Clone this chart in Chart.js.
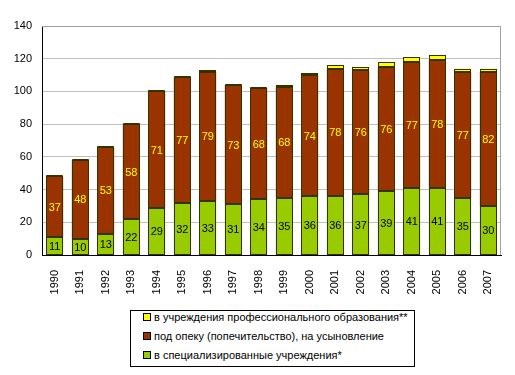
<!DOCTYPE html>
<html>
<head>
<meta charset="utf-8">
<script src="https://cdn.jsdelivr.net/npm/chart.js@4/dist/chart.umd.min.js"></script>
<style>
    html, body { margin: 0; padding: 0; background: #fff; }
    #wrap { position: relative; width: 515px; height: 375px; }
    #legend {
        position: absolute; left: 130px; top: 310px; width: 285px; height: 57px;
        box-sizing: border-box; border: 1px solid #000; background: #fff;
        font: 11px "Liberation Sans", Arial, sans-serif; color: #000;
    }
    #legend div { position: absolute; left: 12px; white-space: nowrap; line-height: 12px; }
    #legend span {
        display: inline-block; width: 6px; height: 6px; border: 1px solid #000;
        margin-right: 3px; vertical-align: 0px;
    }
</style>
</head>
<body>
<div id="wrap">
    <canvas id="chart" width="515" height="375"></canvas>
    <div id="legend"></div>
</div>
<script>

const years = [
    "1990", "1991", "1992", "1993", "1994", "1995", "1996", "1997", "1998",
    "1999", "2000", "2001", "2002", "2003", "2004", "2005", "2006", "2007"
];

const specialized = [11, 10, 13, 22, 29, 32, 33, 31, 34, 35, 36, 36, 37, 39, 41, 41, 35, 30];

const guardianship = [37, 48, 53, 58, 71, 77, 79, 73, 68, 68, 74, 78, 76, 76, 77, 78, 77, 82];

const professional = [0, 0, 0, 0, 0, 0, 1, 0, 0, 1, 1, 2, 2, 3, 3, 3, 2, 2];

const seriesNames = [
    "в специализированные учреждения*",
    "под опеку (попечительство), на усыновление",
    "в учреждения профессионального образования**"
];

const seriesColors = ["#99CC00", "#993300", "#FFFF00"];

const labelColors = ["#000000", "#FFFF00"];

const font = "Liberation Sans, Arial, sans-serif";

// crisp 1px outlines round every segment (zero segments give a dark line, as in Excel)
const outlines = {
    id: "outlines",
    afterDatasetsDraw(chart) {
        const ctx = chart.ctx;
        ctx.save();
        ctx.strokeStyle = "#333300";
        ctx.lineWidth = 1;
        chart.data.datasets.forEach((ds, i) => {
            chart.getDatasetMeta(i).data.forEach(bar => {
                const x0 = Math.round(bar.x - bar.width / 2);
                const x1 = Math.round(bar.x + bar.width / 2);
                const y0 = Math.round(bar.y);
                const y1 = Math.round(bar.base);
                if (y1 - y0 < 1) {
                    ctx.strokeRect(x0 + 0.5, y0 - 0.5, x1 - x0 - 1, 0);
                } else {
                    ctx.strokeRect(x0 + 0.5, y0 + 0.5, x1 - x0 - 1, y1 - y0 - 1);
                }
            });
        });
        ctx.restore();
    }
};

const barLabels = {
    id: "barLabels",
    afterDatasetsDraw(chart) {
        const ctx = chart.ctx;
        ctx.save();
        ctx.font = "11px " + font;
        ctx.textAlign = "center";
        ctx.textBaseline = "middle";
        [0, 1].forEach(i => {
            const meta = chart.getDatasetMeta(i);
            meta.data.forEach((bar, j) => {
                ctx.fillStyle = labelColors[i];
                ctx.fillText(
                    chart.data.datasets[i].data[j],
                    bar.x,
                    (bar.y + bar.base) / 2 + 1
                );
            });
        });
        ctx.restore();
    }
};

const frame = {
    id: "frame",
    beforeDatasetsDraw(chart) {
        const a = chart.chartArea;
        const ctx = chart.ctx;
        ctx.save();
        ctx.strokeStyle = "#A0A0A0";
        ctx.lineWidth = 1;
        ctx.beginPath();
        ctx.moveTo(a.left, a.top + 0.5);
        ctx.lineTo(a.right - 0.5, a.top + 0.5);
        ctx.lineTo(a.right - 0.5, a.bottom);
        ctx.stroke();
        ctx.restore();
    }
};

new Chart(document.getElementById("chart"), {
    type: "bar",
    data: {
        labels: years,
        datasets: [specialized, guardianship, professional].map((d, i) => ({
            label: seriesNames[i],
            data: d,
            backgroundColor: seriesColors[i],
            borderWidth: 0,
            categoryPercentage: 1,
            barPercentage: 0.66
        }))
    },
    options: {
        responsive: false,
        animation: false,
        layout: { padding: { top: 26, right: 14, bottom: 80, left: 0 } },
        plugins: {
            legend: { display: false },
            tooltip: { enabled: false }
        },
        scales: {
            x: {
                stacked: true,
                grid: { display: false },
                border: { color: "#000", width: 1 },
                ticks: {
                    color: "#000",
                    font: { family: font, size: 11 },
                    minRotation: 90,
                    maxRotation: 90,
                    padding: 7
                },
                afterFit(s) { s.height = 40; }
            },
            y: {
                stacked: true,
                min: 0,
                max: 140,
                grid: { color: "#C0C0C0", drawTicks: false },
                border: { color: "#000", width: 1 },
                ticks: {
                    stepSize: 20,
                    color: "#000",
                    font: { family: font, size: 11 },
                    padding: 10
                },
                afterFit(s) { s.width = 42; }
            }
        }
    },
    plugins: [frame, outlines, barLabels]
});

const legend = document.getElementById("legend");
[2, 1, 0].forEach((i, row) => {
    const item = document.createElement("div");
    item.style.top = (0 + row * 19) + "px";
    const box = document.createElement("span");
    box.style.background = seriesColors[i];
    item.appendChild(box);
    item.appendChild(document.createTextNode(seriesNames[i]));
    legend.appendChild(item);
});

</script>
</body>
</html>
